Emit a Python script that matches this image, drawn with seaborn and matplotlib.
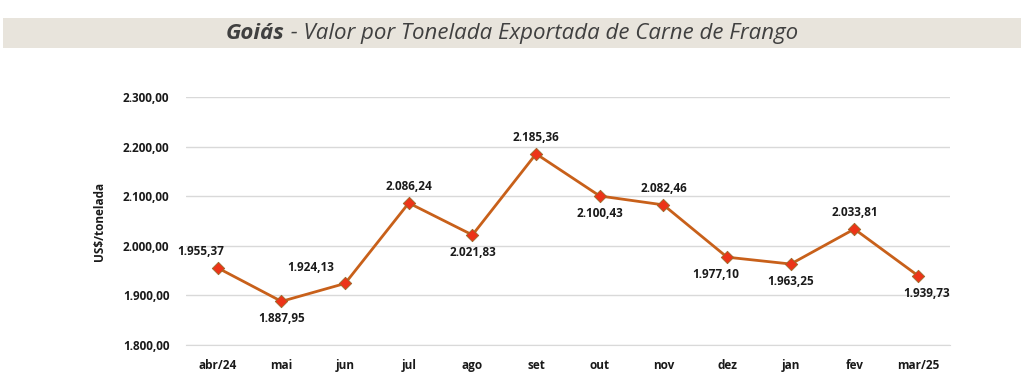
import matplotlib
matplotlib.use("Agg")
import matplotlib.pyplot as plt
import matplotlib.ticker as mticker
import seaborn as sns
import pandas as pd

# data
meses = ['abr/24', 'mai', 'jun', 'jul', 'ago', 'set', 'out', 'nov', 'dez', 'jan', 'fev', 'mar/25']
valores = [1955.37, 1887.95, 1924.13, 2086.24, 2021.83, 2185.36, 2100.43, 2082.46, 1977.10, 1963.25, 2033.81, 1939.73]

# label placement (above / below) per point
lado = ['up', 'down', 'up', 'up', 'down', 'up', 'down', 'up', 'down', 'down', 'up', 'down']
dx = [-12, 0, -25, 0, 0, 0, 0, 0, -8, 0, 0, 6]

def br(v, casas=2):
    s = f"{v:,.{casas}f}"
    return s.replace(',', 'X').replace('.', ',').replace('X', '.')

df = pd.DataFrame({'idx': range(len(meses)), 'mes': meses, 'valor': valores})

sns.set_style('white')
plt.rcParams['font.family'] = ['Open Sans', 'DejaVu Sans']

fig = plt.figure(figsize=(10.24, 3.91), dpi=100)
ax = fig.add_axes([0.1816, 0.1176, 0.746, 0.6344])

sns.lineplot(data=df, x='idx', y='valor', color='#c8601a', linewidth=2, ax=ax)
sns.scatterplot(data=df, x='idx', y='valor', marker='D', s=40, color='#ec3418',
                edgecolor='#9a6a2a', linewidth=0.6, zorder=5, ax=ax)

for i, v in enumerate(valores):
    off = 7 if lado[i] == 'up' else -8
    ax.annotate(br(v), (i, v), xytext=(dx[i], off), textcoords='offset points',
                ha='center', va='bottom' if lado[i] == 'up' else 'top',
                fontsize=8.5, fontweight='bold', color='#1a1a1a')

ax.set_ylim(1800, 2300)
ax.set_xlim(-0.5, len(meses) - 0.5)
ax.yaxis.set_major_locator(mticker.MultipleLocator(100))
ax.yaxis.set_major_formatter(mticker.FuncFormatter(lambda v, p: br(v)))
ax.set_xticks(range(len(meses)))
ax.set_xticklabels(meses)
ax.xaxis.set_minor_locator(mticker.FixedLocator([i - 0.5 for i in range(len(meses) + 1)]))
ax.tick_params(axis='x', which='major', length=0, pad=10)
ax.tick_params(axis='x', which='minor', length=4, color='#d9d9d9', width=1)
ax.tick_params(axis='y', length=0, pad=12)
for lab in ax.get_xticklabels() + ax.get_yticklabels():
    lab.set_fontweight('bold')
    lab.set_fontsize(8.5)
    lab.set_color('#1a1a1a')

ax.grid(axis='y', color='#d9d9d9', linewidth=1)
ax.set_axisbelow(True)
for s in ['top', 'right', 'left']:
    ax.spines[s].set_visible(False)
ax.spines['bottom'].set_color('#d9d9d9')
ax.set_xlabel('')
ax.set_ylabel('US$/tonelada', fontsize=8.5, fontweight='bold', color='#1a1a1a', labelpad=12)

# title band
fig.patches.append(plt.Rectangle((0.003, 0.877), 0.994, 0.077, transform=fig.transFigure,
                                 facecolor='#e8e4dc', edgecolor='none'))
t1 = fig.text(0.5, 0.914, 'Goiás', fontsize=16, fontstyle='italic', fontweight='bold',
              color='#404040', ha='left', va='center')
t2 = fig.text(0.5, 0.914, ' - Valor por Tonelada Exportada de Carne de Frango', fontsize=16,
              fontstyle='italic', color='#404040', ha='left', va='center')
fig.canvas.draw()
w1 = t1.get_window_extent().width / fig.bbox.width
w2 = t2.get_window_extent().width / fig.bbox.width
x0 = 0.5 - (w1 + w2) / 2
t1.set_x(x0)
t2.set_x(x0 + w1)

fig.savefig('out.png', dpi=100)
